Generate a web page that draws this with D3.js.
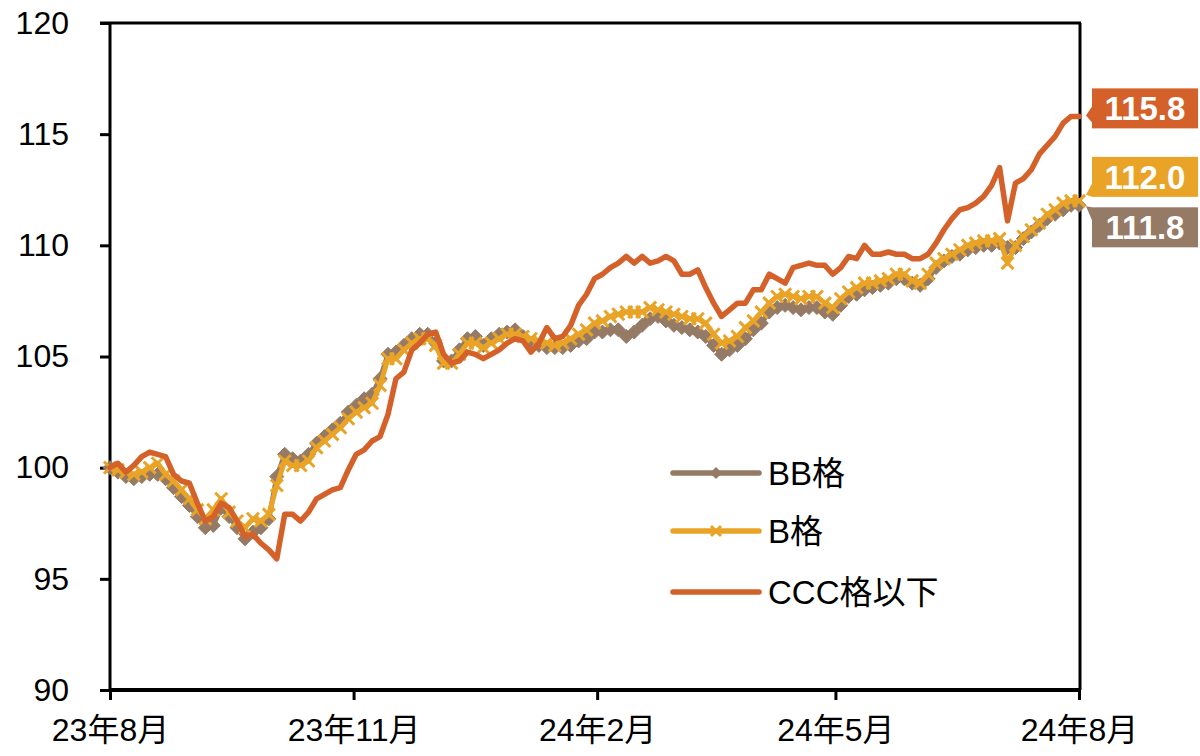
<!DOCTYPE html>
<html><head><meta charset="utf-8">
<script src="https://cdn.jsdelivr.net/npm/d3@7"></script>
<style>body{margin:0;background:#fff}</style>
</head><body><svg id="c" width="1200" height="756"></svg>
<script>
const startDate = "2023-08-01";
const stepDays = 3;
const seriesNames = ["BB格", "B格", "CCC格以下"];
const bbValues = [100.0,99.8,99.6,99.5,99.6,99.7,99.7,99.5,99.1,98.7,
98.3,97.8,97.3,97.4,98.2,97.8,97.3,96.8,97.1,97.3,
97.7,99.6,100.6,100.4,100.3,100.6,101.1,101.4,101.7,102.0,
102.5,102.8,103.1,103.3,104.0,105.1,105.2,105.5,105.8,106.0,
106.0,105.6,104.8,104.8,105.3,105.8,105.9,105.5,105.8,106.0,
106.1,106.2,105.9,105.6,105.5,105.4,105.4,105.4,105.5,105.7,
105.8,106.1,106.1,106.2,106.2,105.9,106.1,106.4,106.7,106.8,
106.6,106.4,106.3,106.2,106.1,105.9,105.5,105.1,105.3,105.5,
105.8,106.2,106.5,107.0,107.2,107.3,107.2,107.1,107.2,107.2,
107.0,106.9,107.3,107.7,107.8,108.0,108.1,108.2,108.3,108.5,
108.5,108.3,108.2,108.5,109.0,109.3,109.5,109.6,109.8,109.9,
110.0,110.0,110.1,109.9,109.9,110.3,110.6,110.9,111.2,111.4,
111.6,111.8,111.8];
const bValues = [100.0,99.9,99.8,99.7,99.8,100.0,100.2,99.7,99.4,99.0,
98.6,98.1,97.7,98.1,98.6,98.0,97.6,97.3,97.7,97.6,
97.9,99.2,100.3,100.1,100.1,100.3,100.9,101.2,101.5,101.8,
102.2,102.5,102.7,102.9,103.7,104.9,104.9,105.3,105.6,105.8,
105.8,105.5,104.7,104.7,105.1,105.6,105.6,105.4,105.6,105.8,
106.0,106.0,105.9,105.8,105.7,105.6,105.5,105.6,105.8,106.0,
106.2,106.5,106.6,106.8,106.9,107.0,107.0,107.0,107.2,107.1,
107.0,106.9,106.8,106.7,106.7,106.5,106.0,105.6,105.7,105.9,
106.3,106.6,107.0,107.4,107.7,107.8,107.7,107.6,107.7,107.7,
107.4,107.2,107.6,107.9,108.1,108.3,108.3,108.4,108.5,108.7,
108.7,108.4,108.3,108.7,109.2,109.4,109.6,109.8,110.0,110.1,
110.2,110.2,110.3,109.2,110.0,110.4,110.7,111.0,111.4,111.6,
111.9,112.0,112.0];
const cccValues = [100.0,100.2,99.8,100.1,100.5,100.7,100.6,100.5,99.7,99.4,
99.3,98.4,97.6,97.8,98.4,98.2,97.6,96.9,97.0,96.6,
96.3,95.9,97.9,97.9,97.6,98.0,98.6,98.8,99.0,99.1,
99.9,100.6,100.8,101.2,101.4,102.4,104.0,104.3,105.3,105.6,
106.0,106.1,105.1,104.7,104.8,105.2,105.1,104.9,105.1,105.3,
105.6,105.8,105.7,105.2,105.6,106.3,105.8,105.9,106.4,107.3,
107.8,108.5,108.7,109.0,109.2,109.5,109.2,109.5,109.2,109.3,
109.5,109.3,108.7,108.7,108.9,108.1,107.4,106.8,107.1,107.4,
107.4,108.0,108.0,108.7,108.5,108.3,109.0,109.1,109.2,109.1,
109.1,108.7,109.0,109.5,109.4,110.0,109.6,109.6,109.7,109.6,
109.6,109.4,109.4,109.6,110.1,110.7,111.2,111.6,111.7,111.9,
112.2,112.7,113.5,111.1,112.8,113.0,113.4,114.1,114.5,114.9,
115.5,115.8,115.8];
const endLabels = ["111.8", "112.0", "115.8"];
const yTicks = [90, 95, 100, 105, 110, 115, 120];
const xTickDates = ["2023-08-01", "2023-11-01", "2024-02-01", "2024-05-01", "2024-08-01"];
const xTickLabels = ["23年8月", "23年11月", "24年2月", "24年5月", "24年8月"];
const colors = ["#957A66", "#E9A427", "#D4612A"];

const parse = d3.timeParse("%Y-%m-%d");
const t0 = parse(startDate);
const dates = bbValues.map((_, i) => d3.timeDay.offset(t0, i * stepDays));
const series = [bbValues, bValues, cccValues];

const svg = d3.select("#c");
const L = 110, R = 1079, T = 23, B = 690;
const x = d3.scaleTime().domain([parse("2023-08-01"), parse("2024-08-01")]).range([L, R]);
const y = d3.scaleLinear().domain([90, 120]).range([B, T]);
const font = "'Liberation Sans', Arial, 'Noto Sans CJK JP', sans-serif";

// axes
const ya = svg.append("g").attr("transform", `translate(${L},0)`)
  .call(d3.axisLeft(y).tickValues(yTicks).tickSize(10).tickSizeOuter(0).tickPadding(31));
ya.select(".domain").remove();
ya.selectAll(".tick line").attr("stroke", "#000").attr("stroke-width", 3);
ya.selectAll(".tick text").attr("font-family", font).attr("font-size", 32).attr("fill", "#000");

const xa = svg.append("g").attr("transform", `translate(0,${B})`)
  .call(d3.axisBottom(x).tickValues(xTickDates.map(parse)).tickFormat((d, i) => xTickLabels[i])
    .tickSize(10).tickSizeOuter(0).tickPadding(18));
xa.select(".domain").remove();
xa.selectAll(".tick line").attr("stroke", "#000").attr("stroke-width", 3);
xa.selectAll(".tick text").attr("font-family", font).attr("font-size", 32).attr("fill", "#000");

// frame
const frame = svg.append("g").attr("stroke", "#000").attr("fill", "none");
frame.append("line").attr("x1", L).attr("x2", L).attr("y1", T - 1).attr("y2", B + 2).attr("stroke-width", 3);
frame.append("line").attr("x1", L - 10).attr("x2", R + 2).attr("y1", T).attr("y2", T).attr("stroke-width", 3);
frame.append("line").attr("x1", R + 1).attr("x2", R + 1).attr("y1", T).attr("y2", B).attr("stroke-width", 3);
frame.append("line").attr("x1", L - 1).attr("x2", R + 2).attr("y1", B).attr("y2", B).attr("stroke-width", 4);

// lines
const line = d3.line().x((d, i) => x(dates[i])).y(d => y(d));
const widths = [5, 5, 5.5];
const diamond = "M0,-7L7,0L0,7L-7,0Z";
const cross = "M-6,-6L6,6M-6,6L6,-6";

function drawMarkers(g, vals, k) {
  g.selectAll("path.m").data(vals).join("path").attr("class", "m")
    .attr("transform", (d, i) => `translate(${x(dates[i])},${y(d)})`)
    .attr("d", k === 0 ? diamond : cross)
    .attr("fill", k === 0 ? colors[0] : "none")
    .attr("stroke", colors[k])
    .attr("stroke-width", k === 0 ? 1 : 3);
}

series.forEach((vals, k) => {
  const g = svg.append("g");
  g.append("path").datum(vals).attr("d", line).attr("fill", "none")
    .attr("stroke", colors[k]).attr("stroke-width", widths[k])
    .attr("stroke-linejoin", "round").attr("stroke-linecap", "round");
  if (k < 2) drawMarkers(g, vals, k);
});

// legend
const legY = [473, 531, 592];
seriesNames.forEach((name, k) => {
  const g = svg.append("g").attr("transform", `translate(0,${legY[k]})`);
  g.append("line").attr("x1", 673).attr("x2", 759).attr("y1", 0).attr("y2", 0)
    .attr("stroke", colors[k]).attr("stroke-width", 5.5).attr("stroke-linecap", "round");
  if (k === 0) g.append("path").attr("d", "M0,-6L6,0L0,6L-6,0Z").attr("transform", "translate(716,0)").attr("fill", colors[0]);
  if (k === 1) g.append("path").attr("d", "M-5,-5L5,5M-5,5L5,-5").attr("transform", "translate(716,0)")
    .attr("stroke", colors[1]).attr("stroke-width", 3).attr("fill", "none");
  g.append("text").attr("x", 768).attr("y", 12).attr("font-family", font).attr("font-size", 33)
    .attr("fill", "#000").text(name);
});

// end labels
const boxCenter = [y(+endLabels[0]) + 22, y(+endLabels[1]) - 24, y(+endLabels[2]) - 8];
const arrows = [
  (c) => `M1092,${c - 20}L1086,${c - 21}L1092,${c - 7}Z`,
  (c) => `M1092,${c + 7}L1086,${c + 18}L1092,${c + 20}Z`,
  (c) => `M1092,${c - 2}L1086,${c + 7}L1092,${c + 14}Z`
];
endLabels.forEach((lab, k) => {
  const c = boxCenter[k];
  const g = svg.append("g");
  g.append("rect").attr("x", 1092).attr("y", c - 20).attr("width", 106).attr("height", 40).attr("fill", colors[k]);
  g.append("path").attr("d", arrows[k](c)).attr("fill", colors[k]);
  g.append("text").attr("x", 1145).attr("y", c + 12).attr("text-anchor", "middle")
    .attr("font-family", font).attr("font-weight", "bold").attr("font-size", 33)
    .attr("fill", "#fff").text(lab);
});
</script>
</body></html>
